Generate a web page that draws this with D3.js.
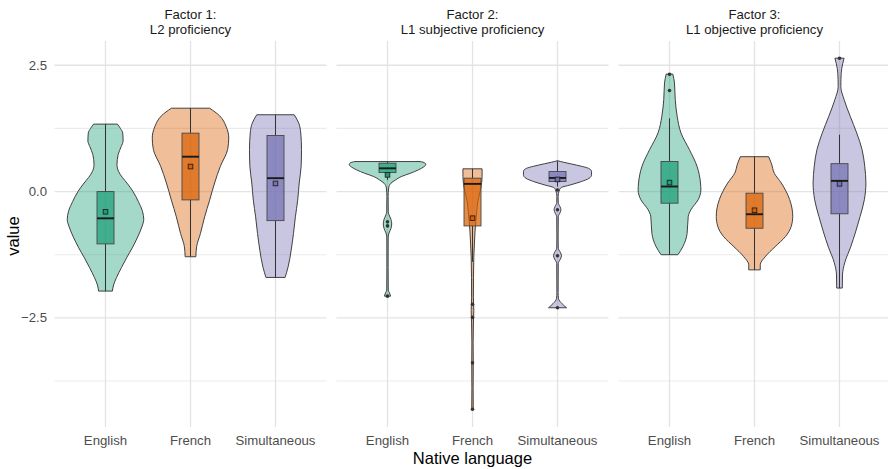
<!DOCTYPE html>
<html>
<head>
<meta charset="utf-8">
<script src="https://cdn.jsdelivr.net/npm/d3@7"></script>
<style>
  body { margin: 0; background: #fff; }
  svg { display: block; font-family: "Liberation Sans", Arial, Helvetica, sans-serif; }
</style>
</head>
<body>
<svg id="chart" width="888" height="469"></svg>
<script>
// ---- data ----------------------------------------------------------------
const languages = ["English", "French", "Simultaneous"];
const facetTitles = [
  ["Factor 1:", "L2 proficiency"],
  ["Factor 2:", "L1 subjective proficiency"],
  ["Factor 3:", "L1 objective proficiency"]
];
const yTicks = [2.5, 0, -2.5];
const yMinorTicks = [1.25, -1.25, -3.75];
const yDomain = [-4.66, 2.98];
const groupColours = ["#1B9E77", "#D95F02", "#7570B3"];

// violin outlines: [value, relative half-width (1 = widest violin)]
const f1English = [[1.335,0.31],[1.25,0.39],[1.16,0.45],[1.0,0.46],[0.89,0.41],[0.73,0.33],[0.53,0.30],[0.40,0.34],[0.28,0.44],[0.15,0.58],[0.0,0.72],[-0.2,0.86],[-0.4,0.97],[-0.55,1.0],[-0.7,0.95],[-0.9,0.84],[-1.1,0.71],[-1.3,0.56],[-1.5,0.42],[-1.7,0.29],[-1.85,0.21],[-1.97,0.18]];
const f1French = [[1.65,0.50],[1.5,0.76],[1.29,0.93],[1.06,1.0],[0.83,0.97],[0.50,0.78],[0.17,0.63],[-0.17,0.50],[-0.50,0.37],[-0.83,0.26],[-1.09,0.16],[-1.29,0.14]];
const f1Simultaneous = [[1.52,0.49],[1.35,0.61],[1.16,0.66],[0.83,0.68],[0.50,0.67],[0.17,0.62],[-0.17,0.58],[-0.50,0.52],[-0.83,0.47],[-1.16,0.41],[-1.49,0.33],[-1.70,0.25]];

const f2English = [[0.594,0.85],[0.57,0.97],[0.53,1.0],[0.49,0.95],[0.43,0.81],[0.36,0.59],[0.30,0.37],[0.23,0.21],[0.165,0.09],[0.07,0.03],[-0.1,0.016],[-0.4,0.02],[-0.46,0.04],[-0.55,0.09],[-0.64,0.11],[-0.73,0.09],[-0.82,0.04],[-0.9,0.018],[-1.5,0.016],[-1.95,0.02],[-2.0,0.05],[-2.07,0.08]];
const f2French = [[0.45,0.25],[0.30,0.25],[0.15,0.235],[0.0,0.2],[-0.2,0.14],[-0.4,0.11],[-0.6,0.084],[-0.8,0.065],[-1.0,0.052],[-1.3,0.034],[-1.7,0.026],[-2.1,0.024],[-2.35,0.034],[-2.6,0.024],[-3.0,0.016],[-3.4,0.02],[-3.9,0.016],[-4.31,0.02]];
const f2Simultaneous = [[0.608,0.013],[0.58,0.16],[0.55,0.34],[0.50,0.63],[0.46,0.81],[0.40,0.89],[0.33,0.89],[0.26,0.82],[0.20,0.63],[0.13,0.33],[0.08,0.10],[0.03,0.05],[-0.1,0.016],[-0.22,0.02],[-0.3,0.065],[-0.36,0.09],[-0.42,0.065],[-0.5,0.02],[-0.9,0.016],[-1.12,0.02],[-1.2,0.073],[-1.27,0.105],[-1.34,0.073],[-1.42,0.02],[-2.0,0.016],[-2.12,0.026],[-2.22,0.12],[-2.30,0.235]];

const f3English = [[2.325,0.086],[2.15,0.13],[1.82,0.15],[1.49,0.20],[1.16,0.30],[0.83,0.52],[0.50,0.72],[0.17,0.81],[0.03,0.82],[-0.16,0.75],[-0.36,0.56],[-0.49,0.49],[-0.83,0.46],[-1.09,0.35],[-1.25,0.22]];
const f3French = [[0.69,0.37],[0.56,0.44],[0.36,0.52],[0.17,0.70],[-0.16,0.92],[-0.49,1.0],[-0.69,0.96],[-0.89,0.81],[-1.09,0.54],[-1.29,0.28],[-1.45,0.15],[-1.55,0.15]];
const f3Simultaneous = [[2.64,0.12],[2.54,0.086],[2.34,0.044],[2.08,0.034],[1.82,0.12],[1.49,0.28],[1.16,0.45],[0.83,0.59],[0.50,0.66],[0.17,0.69],[-0.16,0.65],[-0.49,0.54],[-0.8,0.42],[-1.1,0.29],[-1.4,0.14],[-1.65,0.078],[-1.91,0.073]];

// box summaries: [lower whisker, q1, median, q3, upper whisker, mean]
const f1Boxes = [[-1.97,-1.036,-0.53,0.0,1.335,-0.40],[-1.287,-0.165,0.69,1.156,1.65,0.495],[-1.70,-0.575,0.265,1.11,1.52,0.16]];
const f2Boxes = [[0.23,0.376,0.46,0.562,0.594,0.33],[-1.39,-0.68,0.152,0.265,0.45,-0.527],[0.10,0.198,0.27,0.396,0.60,0.24]];
const f3Boxes = [[-1.25,-0.23,0.10,0.594,1.45,0.178],[-1.55,-0.726,-0.449,-0.032,0.69,-0.37],[-1.91,-0.44,0.212,0.552,1.125,0.153]];

// outlying observations per group
const f1Outliers = [[], [], []];
const f2Outliers = [[-0.6,-0.68,-2.07], [-2.23,-2.49,-3.39,-4.31], [0.03,-0.36,-1.27,-2.3]];
const f3Outliers = [[2.0,2.32], [], [2.64]];

// ---- layout --------------------------------------------------------------
const facets = [
  { titles: facetTitles[0], violins: [f1English, f1French, f1Simultaneous], boxes: f1Boxes, outliers: f1Outliers },
  { titles: facetTitles[1], violins: [f2English, f2French, f2Simultaneous], boxes: f2Boxes, outliers: f2Outliers },
  { titles: facetTitles[2], violins: [f3English, f3French, f3Simultaneous], boxes: f3Boxes, outliers: f3Outliers }
];
const panelLefts = [54.5, 336.5, 618.5];
const panelWidth = 272;
const panelTop = 41, panelBottom = 427;

const svg = d3.select("#chart");
const y = d3.scaleLinear().domain(yDomain).range([panelBottom, panelTop]);

// y axis labels (left of first panel only)
svg.append("g").selectAll("text").data(yTicks).join("text")
  .attr("x", 47).attr("y", d => y(d) + 4.6)
  .attr("text-anchor", "end")
  .attr("font-size", 13.2).attr("fill", "#4d4d4d")
  .text(d => d3.format(".1f")(d));

facets.forEach((facet, fi) => {
  const left = panelLefts[fi];
  const x = d3.scalePoint().domain(languages).range([left, left + panelWidth]).padding(0.6);
  const half = d3.scaleLinear().domain([0, 1]).range([0, 0.45 * x.step()]);
  const boxHalf = 0.1 * x.step();
  const g = svg.append("g");

  // grid
  g.selectAll(".minor").data(yMinorTicks).join("line")
    .attr("x1", left).attr("x2", left + panelWidth)
    .attr("y1", d => y(d)).attr("y2", d => y(d))
    .attr("stroke", "#ebebeb").attr("stroke-width", 1.1);
  g.selectAll(".major").data(yTicks).join("line")
    .attr("x1", left).attr("x2", left + panelWidth)
    .attr("y1", d => y(d)).attr("y2", d => y(d))
    .attr("stroke", "#e3e3e3").attr("stroke-width", 1.3);
  g.selectAll(".vgrid").data(languages).join("line")
    .attr("x1", d => x(d)).attr("x2", d => x(d))
    .attr("y1", panelTop).attr("y2", panelBottom)
    .attr("stroke", "#e3e3e3").attr("stroke-width", 1.3);

  // facet strip
  const cx = left + panelWidth / 2;
  g.append("text").attr("x", cx).attr("y", 19.3).attr("text-anchor", "middle")
    .attr("font-size", 13.2).attr("fill", "#1a1a1a").text(facet.titles[0]);
  g.append("text").attr("x", cx).attr("y", 33.6).attr("text-anchor", "middle")
    .attr("font-size", 13.2).attr("fill", "#1a1a1a").text(facet.titles[1]);

  // category labels
  g.selectAll(".xlab").data(languages).join("text")
    .attr("x", d => x(d)).attr("y", 444.5).attr("text-anchor", "middle")
    .attr("font-size", 13.2).attr("fill", "#4d4d4d").text(d => d);

  languages.forEach((lang, li) => {
    const c = x(lang);
    const col = groupColours[li];
    const [lw, q1, med, q3, uw, mean] = facet.boxes[li];

    // violin
    const area = d3.area().curve(d3.curveMonotoneY)
      .y(d => y(d[0]))
      .x0(d => c - half(d[1]))
      .x1(d => c + half(d[1]));
    g.append("path").datum(facet.violins[li]).attr("d", area)
      .attr("fill", col).attr("fill-opacity", 0.4)
      .attr("stroke", "#404040").attr("stroke-width", 1).attr("stroke-linejoin", "round");

    // whiskers
    g.append("line").attr("x1", c).attr("x2", c).attr("y1", y(uw)).attr("y2", y(q3))
      .attr("stroke", "#333").attr("stroke-width", 1);
    g.append("line").attr("x1", c).attr("x2", c).attr("y1", y(q1)).attr("y2", y(lw))
      .attr("stroke", "#333").attr("stroke-width", 1);

    // box
    g.append("rect").attr("x", c - boxHalf).attr("width", 2 * boxHalf)
      .attr("y", y(q3)).attr("height", y(q1) - y(q3))
      .attr("fill", col).attr("fill-opacity", 0.72)
      .attr("stroke", "#474747").attr("stroke-width", 0.9);
    g.append("line").attr("x1", c - boxHalf).attr("x2", c + boxHalf)
      .attr("y1", y(med)).attr("y2", y(med))
      .attr("stroke", "#1a1a1a").attr("stroke-width", 1.9);

    // outliers
    g.selectAll(null).data(facet.outliers[li]).join("circle")
      .attr("cx", c).attr("cy", d => y(d)).attr("r", 1.8)
      .attr("fill", "#333");

    // mean
    g.append("rect").attr("x", c - 2.3).attr("y", y(mean) - 2.3)
      .attr("width", 4.6).attr("height", 4.6)
      .attr("fill", col).attr("stroke", "#222").attr("stroke-width", 0.9);
  });
});

// axis titles
svg.append("text").attr("x", 472.5).attr("y", 463.5).attr("text-anchor", "middle")
  .attr("font-size", 16.5).attr("fill", "#000").text("Native language");
svg.append("text").attr("transform", "translate(18.5,236) rotate(-90)")
  .attr("text-anchor", "middle").attr("font-size", 16.5).attr("fill", "#000").text("value");
</script>
</body>
</html>
